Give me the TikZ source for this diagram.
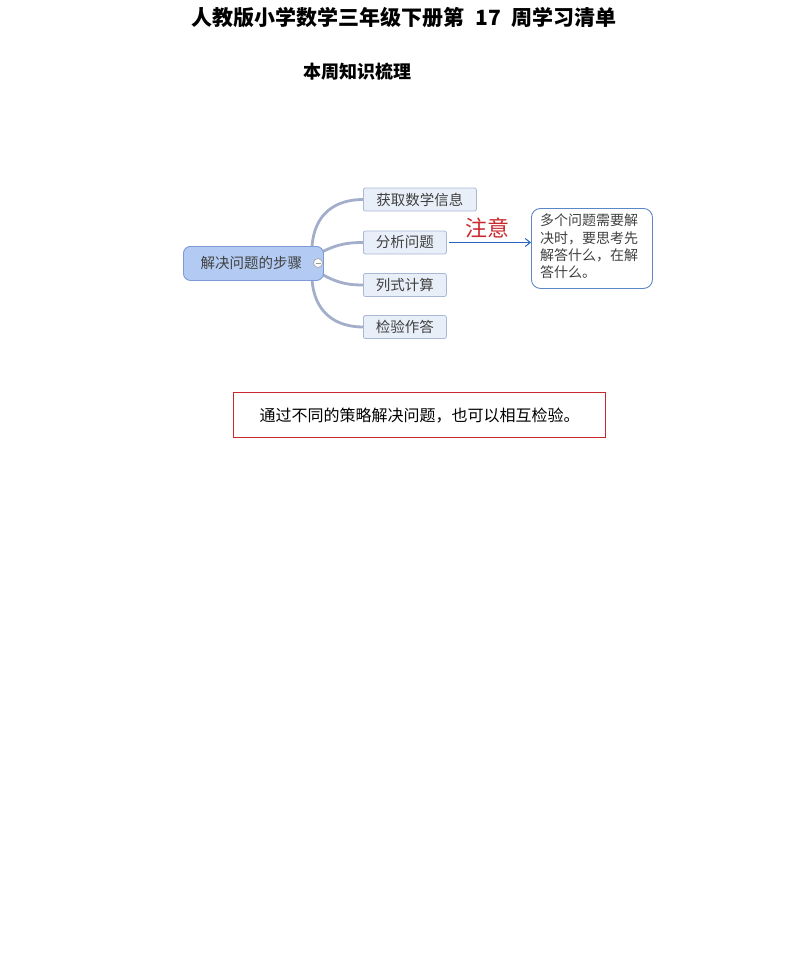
\documentclass[tikz,border=0pt]{standalone}
\usepackage{fontspec}
\setmainfont{Noto Sans CJK SC}
\usetikzlibrary{backgrounds,arrows.meta}
\definecolor{rootfill}{HTML}{B3CBF2}
\definecolor{rootdraw}{HTML}{7D9AD6}
\definecolor{kidfill}{HTML}{E9EFF9}
\definecolor{kiddraw}{HTML}{A9B8D6}
\definecolor{branchc}{HTML}{A3AECB}
\definecolor{arrowc}{HTML}{2A66C0}
\definecolor{notedraw}{HTML}{5B86C8}
\definecolor{redc}{HTML}{C8282E}
\definecolor{txtc}{HTML}{404040}
\tikzset{
  kid/.style={draw=kiddraw, fill=kidfill, rounded corners=2pt, line width=0.8pt,
    minimum height=23pt, inner xsep=0pt, anchor=west, text=txtc,
    font=\fontsize{14.5pt}{15pt}\selectfont},
  branch/.style={draw=branchc, line width=2.8pt},
}
\begin{document}
\begin{tikzpicture}[x=1pt,y=-1pt]
\path[use as bounding box] (0,0) rectangle (794,953);
\node[font=\bfseries\fontsize{21pt}{22pt}\selectfont] (title) at (404,18) {人教版小学数学三年级下册第\hspace{0.5em}17\hspace{0.5em}周学习清单};
\node[font=\bfseries\fontsize{18pt}{19pt}\selectfont] (sub) at (357,72) {本周知识梳理};
\node[draw=rootdraw, fill=rootfill, rounded corners=7pt, line width=0.9pt,
  minimum width=140pt, minimum height=34pt, text=txtc, anchor=north west,
  font=\fontsize{14.5pt}{15pt}\selectfont] (root) at (183,246) {\hspace*{-4pt}解决问题的步骤};
\node[draw=gray!70, fill=white, circle, inner sep=0pt, minimum size=9pt, line width=0.7pt] (minus) at (318,263) {};
\draw[gray!80, line width=0.9pt] ([xshift=-2.5pt]minus.center) -- ([xshift=2.5pt]minus.center);
\node[kid, minimum width=113pt] (c1) at (363,199.5) {获取数学信息};
\node[kid, minimum width=83pt] (c2) at (363,242.5) {分析问题};
\node[kid, minimum width=83pt] (c3) at (363,285) {列式计算};
\node[kid, minimum width=83pt] (c4) at (363,327) {检验作答};
\begin{scope}[on background layer]
\draw[branch] (312,247) .. controls (314,214) and (335,199.5) .. (c1.west);
\draw[branch] (318,254) .. controls (335,245) and (345,242.5) .. (c2.west);
\draw[branch] (318,272) .. controls (335,282) and (345,285) .. (c3.west);
\draw[branch] (312,279) .. controls (314,312) and (335,327) .. (c4.west);
\end{scope}
\node[draw=notedraw, rounded corners=9pt, line width=0.9pt, minimum width=121pt,
  minimum height=80pt, anchor=north west] (note) at (531,208) {};
\node[anchor=north west, align=left, inner sep=0pt, text=txtc,
  font=\fontsize{14pt}{17.3pt}\selectfont] (notetext) at (540,214)
  {多个问题需要解\\决时，要思考先\\解答什么，在解\\答什么。};
\coordinate (astart) at (449,242.5);
\draw[arrowc, line width=1pt, -{Straight Barb[length=5pt,width=8pt]}] (astart) -- (note.west |- astart);
\node[text=redc, font=\fontsize{22pt}{23pt}\selectfont] (zhuyi) at (487,228) {注意};
\node[draw=redc, line width=1.2pt, minimum width=372pt, minimum height=45pt,
  anchor=north west, font=\fontsize{16pt}{17pt}\selectfont] (redbox) at (233,392)
  {通过不同的策略解决问题，也可以相互检验。};
\end{tikzpicture}
\end{document}
